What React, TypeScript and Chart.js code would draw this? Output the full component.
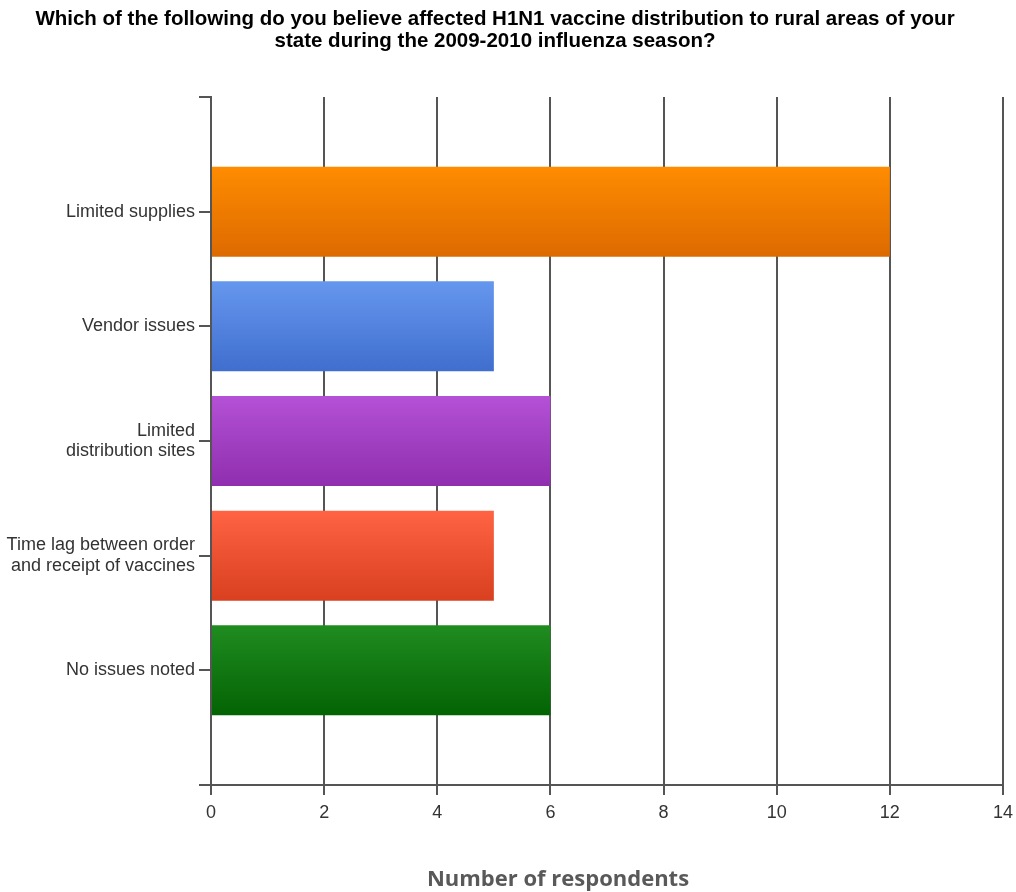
import React, { useEffect, useRef } from "react";
import { Chart, registerables } from "chart.js";

Chart.register(...registerables);

const titleLines = [
  "Which of the following do you believe affected H1N1 vaccine distribution to rural areas of your",
  "state during the 2009-2010 influenza season?",
];
const xAxisTitle = "Number of respondents";

const categories: (string | string[])[] = [
  "Limited supplies",
  "Vendor issues",
  ["Limited", "distribution sites"],
  ["Time lag between order", "and receipt of vaccines"],
  "No issues noted",
];
const respondents = [12, 5, 6, 5, 6];
const topColors = ["#FF8C00", "#6697EE", "#B451D6", "#FF6343", "#208C20"];
const bottomColors = ["#DD6A00", "#3F6ECE", "#8F2EAE", "#D8401F", "#036303"];

const xMin = 0;
const xMax = 14;
const xStep = 2;

const gridColor = "#555555";

const textPlugin = {
  id: "textPlugin",
  afterDraw(chart: any) {
    const ctx = chart.ctx;
    ctx.save();
    ctx.fillStyle = "#000000";
    ctx.font = "bold 20.5px 'Liberation Sans', Arial, sans-serif";
    ctx.textAlign = "center";
    ctx.textBaseline = "middle";
    ctx.fillText(titleLines[0], 495, 19);
    ctx.fillText(titleLines[1], 495, 41);
    ctx.fillStyle = "#595959";
    ctx.font = "bold 22px 'Open Sans', sans-serif";
    ctx.fillText(xAxisTitle, 558, 880);
    ctx.restore();
  },
};

export default function App() {
  const ref = useRef<HTMLCanvasElement | null>(null);

  useEffect(() => {
    if (!ref.current) return;
    const labels = ["", ...categories, ""];
    const data = [null, ...respondents, null];

    const bg = (context: any) => {
      const chart = context.chart;
      const i = context.dataIndex - 1;
      const top = topColors[i] || "#888";
      const bottom = bottomColors[i] || "#666";
      const y = chart.scales?.y;
      if (!y || !chart.chartArea) return top;
      const center = y.getPixelForValue(context.dataIndex);
      const step = Math.abs(y.getPixelForValue(1) - y.getPixelForValue(0));
      const half = (step * 0.785) / 2;
      const g = chart.ctx.createLinearGradient(0, center - half, 0, center + half);
      g.addColorStop(0, top);
      g.addColorStop(1, bottom);
      return g;
    };

    const chart = new Chart(ref.current, {
      type: "bar",
      data: {
        labels,
        datasets: [
          {
            data,
            backgroundColor: bg,
            borderWidth: 0,
            categoryPercentage: 1,
            barPercentage: 0.785,
          },
        ],
      },
      plugins: [textPlugin],
      options: {
        indexAxis: "y",
        animation: false,
        responsive: true,
        maintainAspectRatio: false,
        layout: { padding: { top: 97, right: 13, bottom: 67, left: 0 } },
        plugins: {
          legend: { display: false },
          title: { display: false },
          tooltip: { enabled: false },
        },
        scales: {
          x: {
            type: "linear",
            min: xMin,
            max: xMax,
            ticks: {
              stepSize: xStep,
              color: "#333333",
              font: { family: "'Liberation Sans', Arial, sans-serif", size: 18 },
              padding: 7,
            },
            grid: {
              color: gridColor,
              lineWidth: 2,
              tickLength: 10,
              drawOnChartArea: true,
            },
            border: { color: gridColor, width: 2 },
            afterFit: (s: any) => {
              s.height = 40;
              s.paddingRight = 0;
              s.paddingLeft = 0;
            },
          },
          y: {
            type: "category",
            offset: false,
            ticks: {
              color: "#333333",
              font: { family: "'Liberation Sans', Arial, sans-serif", size: 18, lineHeight: 1.15 },
              padding: 4,
              autoSkip: false,
            },
            grid: {
              offset: false,
              drawOnChartArea: false,
              color: gridColor,
              lineWidth: 2,
              tickLength: 12,
            },
            border: { color: gridColor, width: 2 },
            afterFit: (s: any) => {
              s.width = 211;
              s.paddingTop = 0;
              s.paddingBottom = 0;
            },
          },
        },
      },
    });
    return () => chart.destroy();
  }, []);

  return (
    <div style={{ position: "absolute", left: 0, top: 0, width: 1016, height: 892, background: "#fff" }}>
      <canvas ref={ref} />
    </div>
  );
}
